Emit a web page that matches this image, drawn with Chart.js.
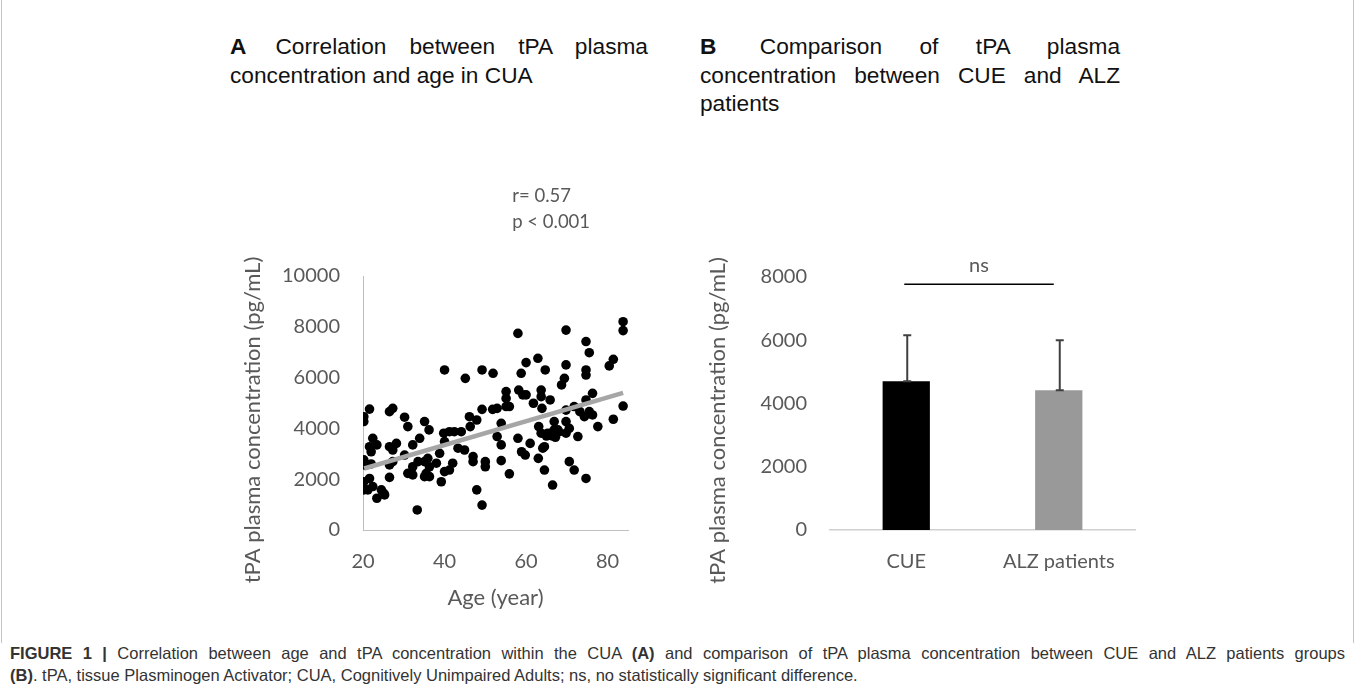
<!DOCTYPE html>
<html>
<head>
<meta charset="utf-8">
<script src="https://cdn.jsdelivr.net/npm/chart.js@4.4.1/dist/chart.umd.min.js"></script>
<style>
  html, body { margin: 0; padding: 0; background: #fff; }
  body { width: 1355px; height: 695px; position: relative; overflow: hidden; }
  .frame { position: absolute; left: 1px; top: -2px; width: 1351px; height: 645px;
           border-left: 1px solid #c4c4c4; border-right: 1px solid #c4c4c4; }
  .panelTitle { position: absolute; top: 32px; font-family: "Liberation Sans", Arial, sans-serif;
                font-size: 22.7px; line-height: 28.5px; color: #111; text-align: justify; }
  .panelTitle b { margin-right: 6px; }
  canvas { position: absolute; }
  .caption { position: absolute; left: 10px; width: 1335px; font-family: "Liberation Sans", Arial, sans-serif;
             font-size: 16.5px; color: #333; }
  .caption.l1 { top: 644px; text-align: justify; text-align-last: justify; }
  .caption.l2 { top: 666px; }
</style>
</head>
<body>
<div class="frame"></div>
<div class="panelTitle" style="left:230px;width:418px;"><b>A</b> Correlation between tPA plasma concentration and age in CUA</div>
<div class="panelTitle" style="left:700px;width:420px;"><b>B</b> Comparison of tPA plasma concentration between CUE and ALZ patients</div>

<canvas id="chartA" width="430" height="460" style="left:220px;top:170px;"></canvas>
<canvas id="chartB" width="450" height="400" style="left:700px;top:230px;"></canvas>

<div class="caption l1"><b>FIGURE 1 |</b> Correlation between age and tPA concentration within the CUA <b>(A)</b> and comparison of tPA plasma concentration between CUE and ALZ patients groups</div>
<div class="caption l2"><b>(B)</b>. tPA, tissue Plasminogen Activator; CUA, Cognitively Unimpaired Adults; ns, no statistically significant difference.</div>

<script>
// Panel A: age (years) vs tPA plasma concentration (pg/mL)
const ages = [
  20.2, 20.2, 21.6, 20.2, 20.4, 22.0, 20.2, 21.6, 20.2, 21.2, 22.4, 21.6, 22.4, 22.0, 23.4, 23.4, 24.5, 25.1, 25.3,
  26.5, 27.3, 26.5, 27.3, 28.2, 26.5, 27.3, 26.5, 30.2, 31.0, 30.2, 31.0, 32.2, 32.2, 33.9, 35.1, 36.2, 32.2, 33.5,
  35.1, 35.9, 36.3, 35.5, 35.1, 36.3, 33.3, 38.0, 38.8, 39.2, 39.8, 40.0, 40.0, 40.0, 41.2, 42.0, 41.2, 42.4, 44.1,
  43.3, 44.9, 45.1, 46.1, 46.3, 47.0, 47.0, 47.9, 47.9, 49.2, 49.2, 49.2, 50.0, 50.0, 51.9, 51.8, 52.9, 52.9, 53.9,
  53.9, 53.9, 55.1, 55.1, 55.1, 55.9, 55.9, 58.0, 58.0, 58.2, 58.8, 59.2, 60.0, 58.9, 59.8, 60.0, 61.0, 61.8, 62.9,
  63.0, 63.1, 63.7, 63.7, 63.9, 63.7, 64.1, 64.5, 64.7, 64.5, 65.3, 65.9, 66.1, 66.9, 66.9, 66.5, 67.8, 66.5, 67.2,
  65.0, 68.0, 68.7, 69.4, 69.8, 69.8, 69.8, 69.8, 69.8, 70.6, 70.6, 71.8, 71.8, 72.7, 73.2, 74.3, 74.7, 74.7, 74.7,
  74.7, 74.7, 75.5, 75.5, 76.3, 76.3, 77.6, 80.4, 81.4, 81.4, 83.8, 83.8, 83.8
];
const tpaLevels = [
  4460, 4270, 4760, 2760, 2560, 2600, 1900, 2030, 1580, 1580, 1710, 3280, 3610, 3080, 3350, 1250, 1580, 1440, 1380,
  4660, 4790, 3280, 3150, 3410, 2560, 2690, 2070, 4440, 4070, 2950, 2230, 2170, 3350, 3610, 4270, 3940, 2490, 2690,
  2690, 2820, 2490, 2230, 2100, 2100, 790, 2630, 3020, 1900, 3810, 3480, 6300, 2300, 2360, 2630, 3870, 3870, 3870,
  3220, 3150, 5970, 4460, 4070, 2890, 2690, 1580, 4330, 4750, 6300, 980, 2690, 2490, 6170, 4750, 4790, 3680, 4200,
  3350, 2730, 5450, 5180, 4860, 4860, 2210, 7740, 3610, 5510, 6170, 5320, 5320, 3080, 2950, 6590, 3410, 4990, 6760,
  2820, 4070, 5510, 5250, 4790, 3810, 3220, 3280, 6300, 2360, 3810, 5120, 3810, 4270, 3940, 1770, 3940, 3700, 3650,
  3700, 3860, 5710, 5970, 6500, 7870, 4720, 4270, 3810, 4000, 2690, 2360, 4860, 3680, 4660, 4460, 7420, 6300, 6100,
  5120, 2030, 6980, 4660, 5380, 4530, 4070, 6460, 6720, 4360, 8200, 7850, 4880
];
// linear trend line end points, as drawn in the picture
const trendAges = [20.3, 83.8];
const trendLevels = [2420, 5400];
const statsLabels = ['r= 0.57', 'p < 0.001'];

// Panel B: group means and SD (pg/mL)
const groups = ['CUE', 'ALZ patients'];
const groupMeans = [4705, 4420];
const groupSD = [1455, 1580];
const nsLevel = 7770;

const txtColor = '#595959';
const font20 = { family: 'Lato', size: 20 };
const yTitleText = 'tPA plasma concentration (pg/mL)';

// y axis title, centred a little lower than the plot like the Excel original
const yTitle = {
  id: 'yTitle',
  afterDraw(chart, args, opts) {
    const { ctx, chartArea } = chart;
    ctx.save();
    ctx.translate(opts.x, (chartArea.top + chartArea.bottom) / 2 + 17);
    ctx.rotate(-Math.PI / 2);
    ctx.fillStyle = txtColor;
    ctx.font = '22px Lato';
    ctx.textAlign = 'center';
    ctx.textBaseline = 'middle';
    ctx.fillText(opts.text, 0, 0);
    ctx.restore();
  }
};

const statsText = {
  id: 'statsText',
  afterDraw(chart) {
    const { ctx, chartArea, scales: { x } } = chart;
    ctx.save();
    ctx.fillStyle = txtColor;
    ctx.font = '18.5px Lato';
    ctx.textAlign = 'left';
    ctx.textBaseline = 'middle';
    ctx.fillText(statsLabels[0], x.getPixelForValue(56.6), chartArea.top - 80);
    ctx.fillText(statsLabels[1], x.getPixelForValue(56.6), chartArea.top - 54);
    ctx.restore();
  }
};

new Chart(document.getElementById('chartA'), {
  type: 'scatter',
  data: {
    datasets: [
      {
        type: 'line',
        data: trendAges.map((a, i) => ({ x: a, y: trendLevels[i] })),
        borderColor: '#a6a6a6',
        borderWidth: 4.5,
        pointRadius: 0,
        order: 0
      },
      {
        data: ages.map((a, i) => ({ x: a, y: tpaLevels[i] })),
        backgroundColor: '#000',
        borderColor: '#000',
        borderWidth: 0,
        pointRadius: 4.8,
        order: 1
      }
    ]
  },
  options: {
    responsive: false,
    animation: false,
    layout: { padding: { top: 106, right: 22, bottom: 0, left: 0 } },
    plugins: { legend: { display: false }, tooltip: { enabled: false }, yTitle: { text: yTitleText, x: 33 } },
    scales: {
      x: {
        type: 'linear', min: 20, max: 85,
        ticks: { stepSize: 20, includeBounds: false, color: txtColor, font: font20, padding: 20, callback: v => v },
        grid: { display: false, drawTicks: false },
        border: { display: true, color: '#bfbfbf', width: 1 },
        title: { display: true, text: 'Age (year)', color: txtColor, font: { family: 'Lato', size: 22 }, padding: { top: 0, bottom: 19 } },
        afterFit: s => { s.height = 100; }
      },
      y: {
        min: 0, max: 10000,
        ticks: { stepSize: 2000, color: txtColor, font: font20, padding: 23, callback: v => v },
        grid: { display: false, drawTicks: false },
        border: { display: true, color: '#bfbfbf', width: 1 },
        afterFit: s => { s.width = 143; }
      }
    }
  },
  plugins: [statsText, yTitle]
});

const barExtras = {
  id: 'barExtras',
  afterDatasetsDraw(chart) {
    const { ctx, scales: { x, y } } = chart;
    ctx.save();
    ctx.strokeStyle = '#404040';
    ctx.lineWidth = 2;
    groupMeans.forEach((m, i) => {
      const px = x.getPixelForValue(i) + 1;
      const top = y.getPixelForValue(m + groupSD[i]);
      const base = y.getPixelForValue(m);
      ctx.beginPath();
      ctx.moveTo(px, base); ctx.lineTo(px, top);
      ctx.moveTo(px - 4, top); ctx.lineTo(px + 4, top);
      ctx.moveTo(px - 4, base); ctx.lineTo(px + 4, base);
      ctx.stroke();
    });
    // ns bracket
    const x0 = x.getPixelForValue(0) - 2;
    const x1 = x.getPixelForValue(1) - 5;
    const yl = y.getPixelForValue(nsLevel);
    ctx.strokeStyle = '#000';
    ctx.lineWidth = 1.5;
    ctx.beginPath();
    ctx.moveTo(x0, yl); ctx.lineTo(x1, yl);
    ctx.stroke();
    ctx.fillStyle = txtColor;
    ctx.font = '20px Lato';
    ctx.textAlign = 'center';
    ctx.textBaseline = 'alphabetic';
    ctx.fillText('ns', (x0 + x1) / 2, yl - 12);
    ctx.restore();
  }
};

new Chart(document.getElementById('chartB'), {
  type: 'bar',
  data: {
    labels: groups,
    datasets: [{
      data: groupMeans,
      backgroundColor: ['#000000', '#999999'],
      barPercentage: 0.31,
      categoryPercentage: 1
    }]
  },
  options: {
    responsive: false,
    animation: false,
    layout: { padding: { top: 47, right: 15, bottom: 0, left: 0 } },
    plugins: { legend: { display: false }, tooltip: { enabled: false }, yTitle: { text: yTitleText, x: 18 } },
    scales: {
      x: {
        ticks: { color: txtColor, font: font20, padding: 20 },
        grid: { display: false, drawTicks: false },
        border: { display: true, color: '#d0d0d0', width: 1.5 },
        afterFit: s => { s.height = 100; }
      },
      y: {
        min: 0, max: 8000,
        ticks: { stepSize: 2000, color: txtColor, font: font20, padding: 23, callback: v => v },
        grid: { display: false, drawTicks: false },
        border: { display: false },
        afterFit: s => { s.width = 130; }
      }
    }
  },
  plugins: [barExtras, yTitle]
});
</script>
</body>
</html>
